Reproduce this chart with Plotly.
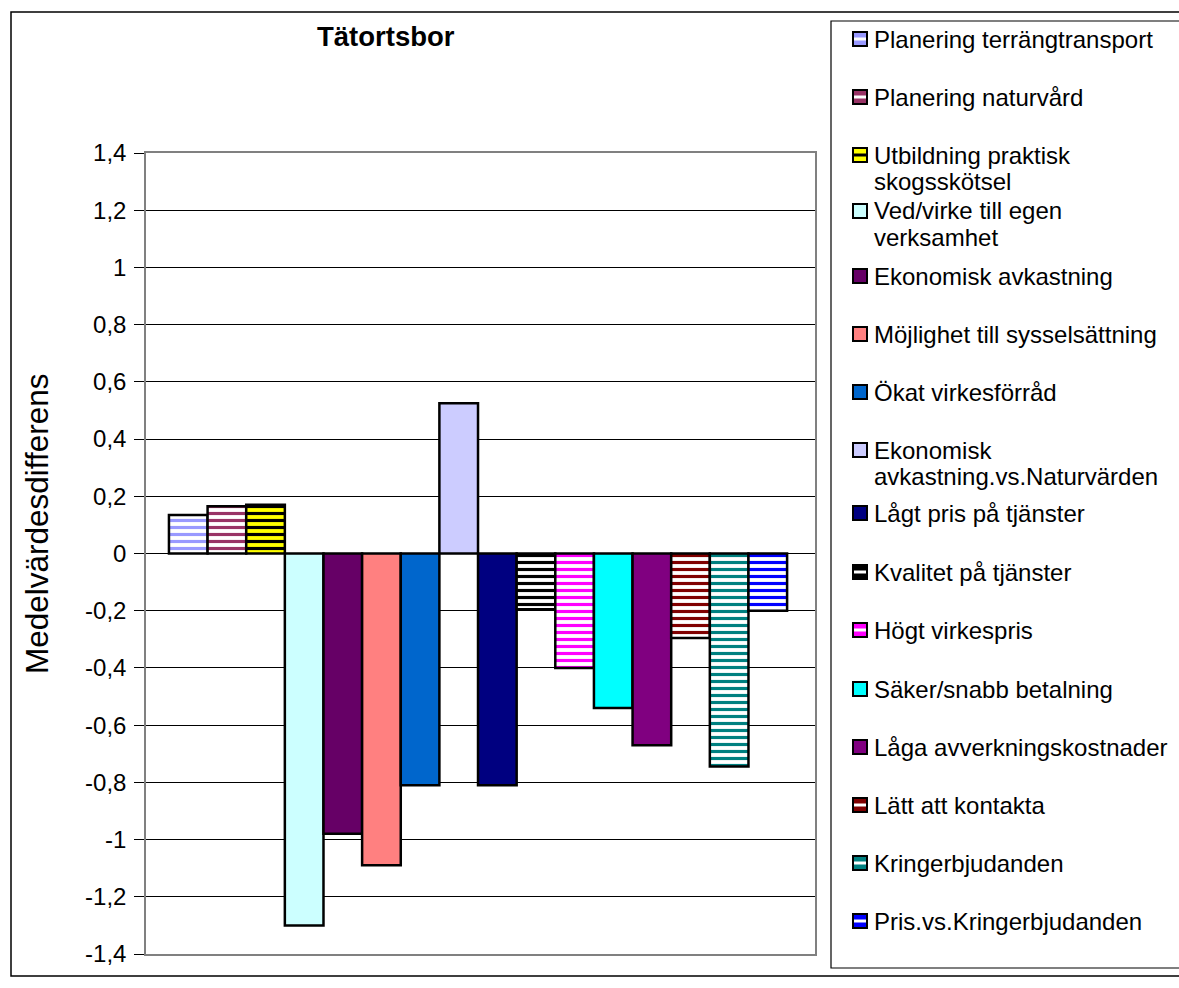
import plotly.graph_objects as go

# ---------------- data ----------------
categories = [
    "Planering terrängtransport",
    "Planering naturvård",
    "Utbildning praktisk skogsskötsel",
    "Ved/virke till egen verksamhet",
    "Ekonomisk avkastning",
    "Möjlighet till sysselsättning",
    "Ökat virkesförråd",
    "Ekonomisk avkastning.vs.Naturvärden",
    "Lågt pris på tjänster",
    "Kvalitet på tjänster",
    "Högt virkespris",
    "Säker/snabb betalning",
    "Låga avverkningskostnader",
    "Lätt att kontakta",
    "Kringerbjudanden",
    "Pris.vs.Kringerbjudanden",
]
values = [0.135, 0.165, 0.17, -1.30, -0.98, -1.09, -0.81, 0.525,
          -0.81, -0.195, -0.40, -0.54, -0.67, -0.295, -0.745, -0.20]
legend_lines = [
    ["Planering terrängtransport"],
    ["Planering naturvård"],
    ["Utbildning praktisk", "skogsskötsel"],
    ["Ved/virke till egen", "verksamhet"],
    ["Ekonomisk avkastning"],
    ["Möjlighet till sysselsättning"],
    ["Ökat virkesförråd"],
    ["Ekonomisk", "avkastning.vs.Naturvärden"],
    ["Lågt pris på tjänster"],
    ["Kvalitet på tjänster"],
    ["Högt virkespris"],
    ["Säker/snabb betalning"],
    ["Låga avverkningskostnader"],
    ["Lätt att kontakta"],
    ["Kringerbjudanden"],
    ["Pris.vs.Kringerbjudanden"],
]
tick_vals = [1.4, 1.2, 1.0, 0.8, 0.6, 0.4, 0.2, 0, -0.2, -0.4, -0.6, -0.8, -1.0, -1.2, -1.4]
tick_text = ["1,4", "1,2", "1", "0,8", "0,6", "0,4", "0,2", "0",
             "-0,2", "-0,4", "-0,6", "-0,8", "-1", "-1,2", "-1,4"]
title_text = "Tätortsbor"
y_title = "Medelvärdesdifferens"

# ---------------- styles ----------------
# (main colour, pattern?, background colour)
styles = [
    ("#9999FF", True, "white"),
    ("#993366", True, "white"),
    ("#000000", True, "#FFFF00"),
    ("#CCFFFF", False, None),
    ("#660066", False, None),
    ("#FF8080", False, None),
    ("#0066CC", False, None),
    ("#CCCCFF", False, None),
    ("#000080", False, None),
    ("#000000", True, "white"),
    ("#FF00FF", True, "white"),
    ("#00FFFF", False, None),
    ("#800080", False, None),
    ("#800000", True, "white"),
    ("#008080", True, "white"),
    ("#0000FF", True, "white"),
]

W, H = 1179, 988
PL, PR, PT, PB = 146, 815, 153, 954
FONT = "Arial, Liberation Sans, sans-serif"


def px(x):
    return (x - PL) / (PR - PL)


def py(y):
    return (PB - y) / (PB - PT)


fig = go.Figure()
for name, v, (col, pat, bg) in zip(categories, values, styles):
    marker = dict(color=col, line=dict(color="black", width=2.5))
    if pat:
        marker["pattern"] = dict(shape="-", size=7, solidity=0.45,
                                 fgcolor=col, bgcolor=bg, fillmode="replace")
    fig.add_trace(go.Bar(x=["a"], y=[v], name=name, marker=marker,
                         showlegend=False))

shapes = []
annotations = []

# outer chart border and legend box
shapes.append(dict(type="rect", xref="paper", yref="paper",
                   x0=px(11), x1=px(1190), y0=py(976), y1=py(12),
                   line=dict(color="black", width=1.5), fillcolor="rgba(0,0,0,0)", layer="below"))
shapes.append(dict(type="rect", xref="paper", yref="paper",
                   x0=px(831), x1=px(1190), y0=py(968), y1=py(21),
                   line=dict(color="black", width=1.2), fillcolor="rgba(0,0,0,0)"))

# manual legend
item_y = [39, 97, 155, 211, 276, 334, 392, 450, 513, 572, 630, 689, 747, 805, 863, 921]
for lines, yy, (col, pat, bg) in zip(legend_lines, item_y, styles):
    x0, x1 = 853, 867
    y0, y1 = yy - 7, yy + 7
    shapes.append(dict(type="rect", xref="paper", yref="paper",
                       x0=px(x0), x1=px(x1), y0=py(y1), y1=py(y0),
                       fillcolor=(bg if (pat and bg != "white") else col),
                       line=dict(color="black", width=2)))
    if pat:
        stripe = col if bg != "white" else "white"
        shapes.append(dict(type="rect", xref="paper", yref="paper",
                           x0=px(x0 + 1), x1=px(x1 - 1), y0=py(yy + 1.5), y1=py(yy - 1.5),
                           fillcolor=stripe, line=dict(width=0)))
    for k, t in enumerate(lines):
        annotations.append(dict(xref="paper", yref="paper", x=px(872), y=py(yy + 26.5 * k),
                                xanchor="left", yanchor="middle", text=t, showarrow=False,
                                font=dict(family=FONT, size=24, color="black")))

# chart title
annotations.append(dict(xref="paper", yref="paper", x=px(386), y=py(36),
                        xanchor="center", yanchor="middle", text="<b>%s</b>" % title_text,
                        showarrow=False, font=dict(family=FONT, size=27.5, color="black")))
# y axis title
annotations.append(dict(xref="paper", yref="paper", x=px(37), y=py(524),
                        xanchor="center", yanchor="middle", text=y_title, textangle=-90,
                        showarrow=False, font=dict(family=FONT, size=31.5, color="black")))

fig.update_layout(
    width=W, height=H,
    margin=dict(l=PL, r=W - PR, t=PT, b=H - PB, pad=0),
    paper_bgcolor="white", plot_bgcolor="white",
    barmode="group", bargap=0.076, bargroupgap=0,
    shapes=shapes, annotations=annotations,
    showlegend=False,
    font=dict(family=FONT, color="black"),
)
fig.update_xaxes(type="category", range=[-0.4963, 0.5037], showticklabels=False,
                 ticks="", showgrid=False, showline=True, mirror=True,
                 linecolor="#808080", linewidth=1.5, zeroline=False)
fig.update_yaxes(range=[-1.4, 1.4], tickvals=tick_vals, ticktext=tick_text,
                 ticks="outside", ticklen=10, tickcolor="black", tickwidth=1,
                 ticklabelstandoff=3,
                 tickfont=dict(family=FONT, size=24, color="black"),
                 showgrid=True, gridcolor="black", gridwidth=1,
                 zeroline=False, showline=True, mirror=True,
                 linecolor="#808080", linewidth=1.5)

fig.write_html("out.html", config={"displayModeBar": False},
               post_script="document.body.style.margin='0';document.body.style.overflow='hidden';")
